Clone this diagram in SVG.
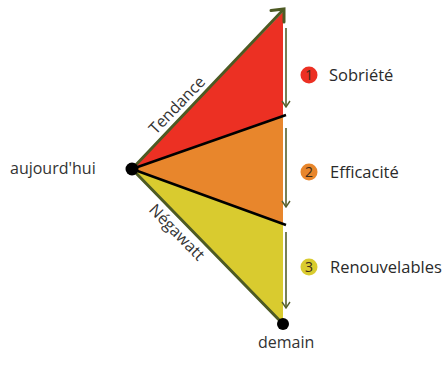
<svg xmlns="http://www.w3.org/2000/svg" width="448" height="373" viewBox="0 0 448 373">
<defs>
<style>
.lbl{font-family:"Open Sans","Noto Sans",sans-serif;fill:#333;font-size:16px}
.leg{font-family:"Open Sans","Noto Sans",sans-serif;fill:#2a2a2a;font-size:16.5px}
.num{font-family:"Open Sans","Noto Sans",sans-serif;fill:#3a2a1a;font-size:14px;text-anchor:middle}
.edge{stroke:#4d5a23;stroke-width:3;fill:none;stroke-linecap:round}
.div{stroke:#000;stroke-width:2.5;fill:none}
.varrow{stroke:#55602e;stroke-width:1.6;fill:none;marker-end:url(#ah)}
</style>
<marker id="ah" viewBox="0 0 10 10" refX="9" refY="5" markerWidth="10" markerHeight="10" markerUnits="userSpaceOnUse" orient="auto">
<path d="M3,1 L9,5 L3,9" fill="none" stroke="#55602e" stroke-width="1.4"/>
</marker>
</defs>
<rect width="448" height="373" fill="#fff"/>
<g id="triangle">
<polygon points="132,169 283,12 283,116" fill="#ec3023"/>
<polygon points="132,169 283,116 283,224" fill="#e8862c"/>
<polygon points="132,169 283,224 283,324" fill="#d9cb2f"/>
</g>
<g id="connectors">
<line class="edge" x1="132" y1="169" x2="283" y2="10"/>
<polyline class="edge" points="271,10.5 284,9 284,22" stroke-width="2.5"/>
<line class="edge" x1="132" y1="169" x2="283" y2="324"/>
<line class="div" x1="132" y1="169" x2="286" y2="115"/>
<line class="div" x1="132" y1="169" x2="286" y2="225"/>
<line class="varrow" x1="286" y1="28" x2="286" y2="107"/>
<line class="varrow" x1="286" y1="128" x2="286" y2="207"/>
<line class="varrow" x1="286" y1="232" x2="286" y2="308"/>
</g>
<g id="aujourdhui">
<circle cx="132" cy="169" r="6.5" fill="#000"/>
<text class="lbl" x="10" y="174">aujourd'hui</text>
</g>
<g id="demain">
<circle cx="283" cy="324" r="6" fill="#000"/>
<text class="lbl" x="258" y="348">demain</text>
</g>
<g id="tendance">
<text class="lbl" x="181" y="109" text-anchor="middle" transform="rotate(-46.1 181 109)">Tendance</text>
</g>
<g id="negawatt">
<text class="lbl" x="173" y="236" text-anchor="middle" transform="rotate(45.6 173 236)">Négawatt</text>
</g>
<g id="sobriete">
<circle cx="309" cy="75" r="8.5" fill="#ec3023"/>
<text class="num" x="309" y="80">1</text>
<text class="leg" x="329" y="81">Sobriété</text>
</g>
<g id="efficacite">
<circle cx="309" cy="172" r="8.5" fill="#e8862c"/>
<text class="num" x="309" y="177">2</text>
<text class="leg" x="330" y="178">Efficacité</text>
</g>
<g id="renouvelables">
<circle cx="309" cy="267" r="8.5" fill="#d9cb2f"/>
<text class="num" x="309" y="272">3</text>
<text class="leg" x="330" y="273">Renouvelables</text>
</g>
</svg>
